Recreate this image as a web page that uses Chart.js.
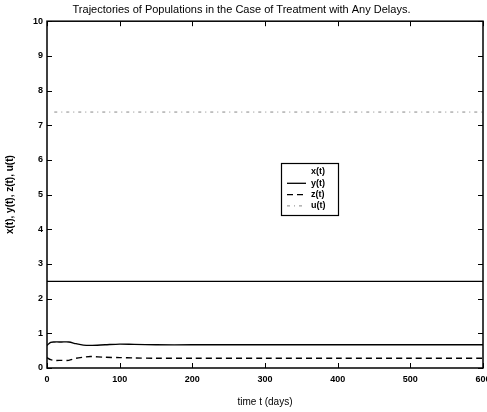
<!DOCTYPE html>
<html>
<head>
<meta charset="utf-8">
<script src="https://cdn.jsdelivr.net/npm/chart.js@4.4.1/dist/chart.umd.min.js"></script>
<style>
  html, body { margin:0; padding:0; background:#fff; }
  #wrap { width:487px; height:412px; }
</style>
</head>
<body>
<div id="wrap"><canvas id="chart"></canvas></div>
<script>
// time axis (days)
const days = [0, 5, 10, 20, 30, 40, 50, 60, 80, 100, 120, 150, 200, 300, 400, 500, 600];
// trajectories
const xVals = [2.5, 2.5, 2.5, 2.5, 2.5, 2.5, 2.5, 2.5, 2.5, 2.5, 2.5, 2.5, 2.5, 2.5, 2.5, 2.5, 2.5];
const yVals = [0.65, 0.74, 0.75, 0.75, 0.75, 0.70, 0.66, 0.65, 0.67, 0.69, 0.68, 0.67, 0.67, 0.67, 0.67, 0.67, 0.67];
const zVals = [0.30, 0.24, 0.22, 0.22, 0.22, 0.28, 0.31, 0.33, 0.31, 0.30, 0.29, 0.28, 0.28, 0.28, 0.28, 0.28, 0.28];
const uVals = [null, null, 7.38, 7.38, 7.38, 7.38, 7.38, 7.38, 7.38, 7.38, 7.38, 7.38, 7.38, 7.38, 7.38, 7.38, 7.38];
const seriesNames = ["x(t)", "y(t)", "z(t)", "u(t)"];
const yTicks = [0,1,2,3,4,5,6,7,8,9,10];
const xTicks = [0,100,200,300,400,500,600];

const FONT = "'Liberation Sans', Arial, sans-serif";

function pts(vals){
	return days.map((d,i) => ({x:d, y:vals[i]}));
}

// MATLAB style box with inward ticks
const boxTicks = {
	id:'boxTicks',
	afterDraw(chart){
		const ctx = chart.ctx, a = chart.chartArea;
		const xs = chart.scales.x, ys = chart.scales.y;
		ctx.save();
		ctx.strokeStyle = '#000';
		ctx.lineWidth = 1.5;
		ctx.strokeRect(a.left, a.top, a.right-a.left, a.bottom-a.top);
		ctx.lineWidth = 1;
		ctx.beginPath();
		for (const t of xTicks){
			let px = Math.round(xs.getPixelForValue(t))+0.5;
			ctx.moveTo(px, a.bottom); ctx.lineTo(px, a.bottom-5);
			ctx.moveTo(px, a.top); ctx.lineTo(px, a.top+5);
		}
		for (const t of yTicks){
			let py = Math.round(ys.getPixelForValue(t))+0.5;
			ctx.moveTo(a.left, py); ctx.lineTo(a.left+5, py);
			ctx.moveTo(a.right, py); ctx.lineTo(a.right-5, py);
		}
		ctx.stroke();
		ctx.restore();
	}
};

// legend box inside the axes
const boxLegend = {
	id:'boxLegend',
	afterDraw(chart){
		const ctx = chart.ctx;
		const x0 = 281, y0 = 163, w = 57, h = 52;
		ctx.save();
		ctx.fillStyle = '#fff';
		ctx.fillRect(x0, y0, w, h);
		ctx.strokeStyle = '#000';
		ctx.lineWidth = 1.2;
		ctx.strokeRect(x0+0.5, y0+0.5, w, h);
		ctx.font = "bold 9px " + FONT;
		ctx.textBaseline = 'middle';
		chart.data.datasets.forEach((ds,i) => {
			let yy = y0 + 9 + i*11.3;
			if (i > 0){
				ctx.beginPath();
				ctx.setLineDash(ds.borderDash || []);
				ctx.strokeStyle = ds.borderColor;
				ctx.lineWidth = ds.borderWidth;
				ctx.moveTo(x0+6, yy); ctx.lineTo(x0+25, yy);
				ctx.stroke();
			}
			ctx.setLineDash([]);
			ctx.fillStyle = '#000';
			ctx.fillText(ds.label, x0+30, yy);
		});
		ctx.restore();
	}
};

new Chart(document.getElementById('chart'), {
	type:'line',
	data:{
		datasets:[
			{label:seriesNames[0], data:pts(xVals), borderColor:'#000', borderWidth:1.3, pointRadius:0},
			{label:seriesNames[1], data:pts(yVals), borderColor:'#000', borderWidth:1.3, pointRadius:0, tension:0.3},
			{label:seriesNames[2], data:pts(zVals), borderColor:'#000', borderWidth:1.4, borderDash:[6,4], pointRadius:0, tension:0.3},
			{label:seriesNames[3], data:pts(uVals), borderColor:'#888', borderWidth:1, borderDash:[3,4,1,4], pointRadius:0}
		]
	},
	options:{
		responsive:true,
		maintainAspectRatio:false,
		animation:false,
		layout:{padding:{left:0, right:4, top:1, bottom:0}},
		plugins:{
			legend:{display:false},
			tooltip:{enabled:false},
			title:{display:true, text:'Trajectories of Populations in the Case of Treatment with Any Delays.',
				color:'#000', font:{family:FONT, size:11, weight:'normal'}, padding:{top:2, bottom:5}}
		},
		scales:{
			x:{type:'linear', min:0, max:600,
				afterBuildTicks: s => { s.ticks = xTicks.map(v => ({value:v})); },
				afterFit: s => { s.height = 44; s.paddingLeft = 0; s.paddingRight = 0; },
				grid:{display:false, drawTicks:false}, border:{display:false},
				ticks:{color:'#000', padding:6, maxRotation:0, font:{family:FONT, size:9, weight:'bold'}},
				title:{display:true, text:'time t (days)', color:'#000', padding:{top:7}, font:{family:FONT, size:10}}
			},
			y:{type:'linear', min:0, max:10,
				afterBuildTicks: s => { s.ticks = yTicks.map(v => ({value:v})); },
				afterFit: s => { s.width = 47; },
				grid:{display:false, drawTicks:false}, border:{display:false},
				ticks:{color:'#000', padding:4, font:{family:FONT, size:9, weight:'bold'}},
				title:{display:true, text:'x(t), y(t), z(t), u(t)', color:'#000', padding:{bottom:4}, font:{family:FONT, size:10, weight:'bold'}}
			}
		}
	},
	plugins:[boxTicks, boxLegend]
});
</script>
</body>
</html>
